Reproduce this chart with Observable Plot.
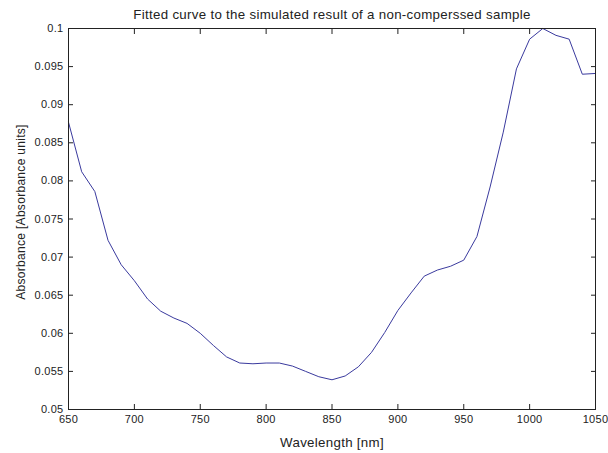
<!DOCTYPE html>
<html>
<head>
<meta charset="utf-8">
<script src="https://cdn.jsdelivr.net/npm/d3@7"></script>
<script src="https://cdn.jsdelivr.net/npm/@observablehq/plot@0.6"></script>
<style>
  html, body { margin: 0; padding: 0; background: #fff; }
  #chart svg { display: block; letter-spacing: 0.3px; }
</style>
</head>
<body>
<div id="chart"></div>
<script>
// Fitted absorbance spectrum, sampled every 10 nm
const wavelength = [650, 660, 670, 680, 690, 700, 710, 720, 730, 740,
                    750, 760, 770, 780, 790, 800, 810, 820, 830, 840,
                    850, 860, 870, 880, 890, 900, 910, 920, 930, 940,
                    950, 960, 970, 980, 990, 1000, 1010, 1020, 1030, 1040, 1050];
const absorbance = [0.0877, 0.0812, 0.0786, 0.0722, 0.0690, 0.0669, 0.0645, 0.0629, 0.0620, 0.0613,
                    0.0600, 0.0584, 0.0569, 0.0561, 0.0560, 0.0561, 0.0561, 0.0557, 0.0550, 0.0543,
                    0.0539, 0.0544, 0.0556, 0.0575, 0.0601, 0.0630, 0.0653, 0.0675, 0.0683, 0.0688,
                    0.0696, 0.0727, 0.0792, 0.0864, 0.0947, 0.0986, 0.1000, 0.0991, 0.0986, 0.0940, 0.0941];

const xTicks = [650, 700, 750, 800, 850, 900, 950, 1000, 1050];
const yTicks = [0.05, 0.055, 0.06, 0.065, 0.07, 0.075, 0.08, 0.085, 0.09, 0.095, 0.1];

const titleText = "Fitted curve to the simulated result of a non-comperssed sample";
const xLabel = "Wavelength [nm]";
const yLabel = "Absorbance [Absorbance units]";

const data = wavelength.map((w, i) => ({w, a: absorbance[i]}));
const fmtY = d => String(+d.toFixed(3));
const blank = () => "";

const chart = Plot.plot({
  width: 608,
  height: 453,
  marginLeft: 68,
  marginRight: 13,
  marginTop: 28,
  marginBottom: 44,
  style: {fontFamily: "'Liberation Sans', Arial, sans-serif", fontSize: "11px", color: "#222", background: "#fff"},
  x: {domain: [650, 1050]},
  y: {domain: [0.05, 0.1]},
  marks: [
    Plot.line(data, {x: "w", y: "a", stroke: "#3a3a9e", strokeWidth: 1}),
    Plot.frame({stroke: "#222", strokeWidth: 1}),
    // inward ticks on all four sides, labels on bottom and left only
    Plot.axisX({anchor: "bottom", ticks: xTicks, tickSize: -5, tickPadding: 11, tickFormat: d => String(d), label: null}),
    Plot.axisX({anchor: "top", ticks: xTicks, tickSize: -5, tickFormat: blank, label: null}),
    Plot.axisY({anchor: "left", ticks: yTicks, tickSize: -5, tickPadding: 10, tickFormat: fmtY, label: null}),
    Plot.axisY({anchor: "right", ticks: yTicks, tickSize: -5, tickFormat: blank, label: null}),
    Plot.text([titleText], {frameAnchor: "top", dy: -10, lineAnchor: "bottom", fontSize: 13.3, fill: "#222"}),
    Plot.text([xLabel], {frameAnchor: "bottom", dy: 37.7, lineAnchor: "bottom", fontSize: 13.3, fill: "#222"}),
    Plot.text([yLabel], {frameAnchor: "left", textAnchor: "middle", dx: -47, dy: -7, rotate: -90, fontSize: 12, fill: "#222"})
  ]
});
document.getElementById("chart").appendChild(chart);
</script>
</body>
</html>
